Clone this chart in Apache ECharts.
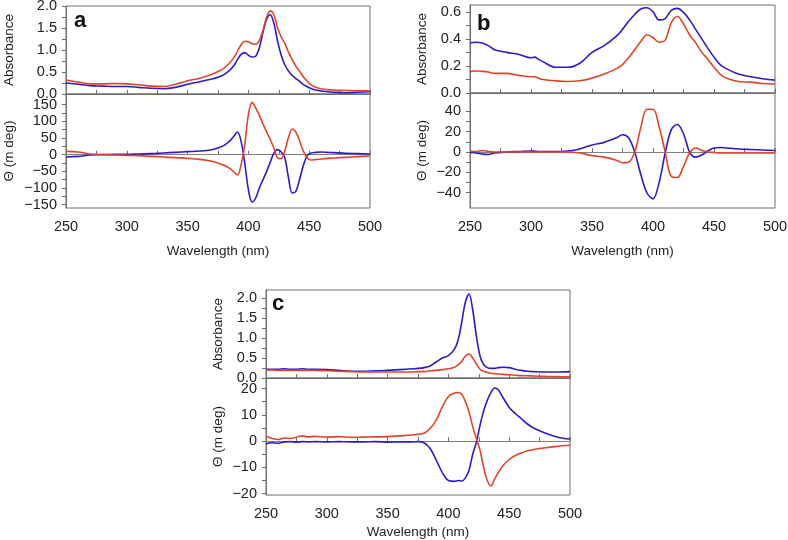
<!DOCTYPE html>
<html>
<head>
<meta charset="utf-8">
<script src="https://cdn.jsdelivr.net/npm/echarts@6/dist/echarts.min.js"></script>
<style>html,body{margin:0;padding:0;background:#fff}#c{width:788px;height:540px}</style>
</head>
<body>
<div id="c"></div>
<script>
// ---------- DATA ----------
// Panel a
const wlA = [250,260,270,280,290,300,310,320,330,340,350,360,370,375,380,385,388,391,394,397,400,403,406,409,412,415,418,421,424,427,430,433,436,439,442,445,448,451,455,460,465,470,480,490,500];
const absA_red  = [0.32,0.27,0.23,0.23,0.24,0.23,0.21,0.18,0.17,0.22,0.30,0.36,0.45,0.51,0.59,0.72,0.82,0.97,1.12,1.20,1.19,1.14,1.13,1.22,1.45,1.75,1.89,1.80,1.50,1.30,1.15,0.95,0.78,0.63,0.52,0.40,0.30,0.22,0.16,0.12,0.10,0.09,0.08,0.07,0.07];
const absA_blue = [0.25,0.22,0.19,0.18,0.17,0.17,0.15,0.13,0.12,0.15,0.22,0.28,0.34,0.38,0.44,0.55,0.64,0.78,0.90,0.94,0.88,0.84,0.86,1.05,1.40,1.70,1.80,1.60,1.20,0.88,0.66,0.52,0.42,0.35,0.29,0.22,0.17,0.13,0.09,0.07,0.05,0.04,0.03,0.04,0.05];
const cdA_red   = [10,8,2,0,-1,-2,-3,-5,-7,-9,-11,-14,-20,-25,-32,-42,-52,-61,-30,30,120,157,140,118,92,68,45,20,-10,-12,12,52,77,68,42,12,-8,-16,-15,-13,-11,-10,-8,-6,-4];
const cdA_blue  = [-7,-5,-1,0,1,1,2,3,5,7,9,11,15,20,28,42,55,68,40,-25,-105,-142,-130,-100,-75,-50,-22,5,15,8,-10,-70,-115,-110,-75,-35,-5,4,7,8,7,6,4,3,2];

// Panel b
const wlB = [250,255,260,265,270,280,290,300,303,306,310,320,330,340,350,360,370,375,380,385,390,395,400,405,410,415,420,425,430,435,440,445,450,455,460,470,480,490,500];
const absB_red  = [0.16,0.163,0.16,0.155,0.145,0.145,0.13,0.12,0.12,0.11,0.10,0.09,0.085,0.09,0.11,0.14,0.18,0.21,0.26,0.32,0.38,0.43,0.41,0.375,0.39,0.52,0.565,0.51,0.43,0.37,0.30,0.25,0.19,0.14,0.11,0.085,0.08,0.07,0.065];
const absB_blue = [0.37,0.375,0.37,0.35,0.32,0.30,0.285,0.26,0.265,0.25,0.23,0.19,0.19,0.22,0.30,0.35,0.42,0.47,0.53,0.58,0.62,0.63,0.60,0.54,0.55,0.61,0.625,0.595,0.54,0.47,0.40,0.33,0.265,0.21,0.18,0.14,0.12,0.105,0.095];
const cdB_red   = [1,0.5,1.5,0.5,0,0,0,0,0,0,0,0,0,-1,-3.5,-5,-8,-10.5,-10,0,24,42,42,25,0,-24,-25,-14,-1,4,1.5,0,-0.5,-1,-1,-1,-1,-1,-1];
const cdB_blue  = [-0.5,-1,-2,-2.5,-1,0,0.5,1,0.8,0.5,0.5,0.5,1,3,7,9.5,14,17,14,0,-22,-40,-46,-30,-1,22,27,18,0,-5,-3,1,4,4.5,4,3,2.5,2,1.5];

// Panel c
const wlC = [250,255,260,265,270,275,280,285,290,300,310,320,330,340,350,360,370,375,380,385,390,395,400,405,408,411,414,417,420,423,426,429,432,435,438,441,445,450,455,460,465,470,480,490,500];
const absC_red  = [0.20,0.20,0.19,0.19,0.19,0.19,0.19,0.19,0.19,0.18,0.17,0.16,0.15,0.15,0.15,0.15,0.15,0.16,0.16,0.18,0.19,0.21,0.23,0.27,0.33,0.42,0.55,0.60,0.50,0.35,0.22,0.17,0.14,0.12,0.11,0.10,0.09,0.08,0.07,0.06,0.055,0.05,0.04,0.035,0.03];
const absC_blue = [0.22,0.22,0.22,0.23,0.22,0.22,0.23,0.22,0.22,0.21,0.19,0.17,0.17,0.18,0.19,0.21,0.23,0.24,0.26,0.30,0.40,0.50,0.56,0.72,0.95,1.40,1.90,2.10,1.70,1.05,0.55,0.33,0.26,0.24,0.24,0.26,0.27,0.26,0.22,0.19,0.17,0.16,0.15,0.15,0.16];
const cdC_red   = [1.8,1.0,0.6,1.2,1.0,1.5,2.0,1.6,1.8,1.5,1.7,1.4,1.5,1.6,1.7,2.0,2.3,2.6,3.0,4.8,8,13,17,18.3,18.5,17.8,15,11,5.5,1,-3.5,-10,-15,-17,-14.5,-12,-9.3,-7,-5.5,-4.5,-3.7,-3.2,-2.5,-2,-1.6];
const cdC_blue  = [-1.0,-0.6,-0.8,-0.3,-0.2,-0.4,-0.2,-0.3,-0.2,-0.3,-0.2,-0.3,-0.3,-0.2,-0.4,-0.3,-0.3,-0.2,-0.6,-2.8,-7.2,-12,-15,-15.3,-15,-15.2,-14,-11,-5,-0.5,6,11.5,15.5,18.5,20.2,19.5,16.5,12.8,10.5,8.5,6.5,5,3,1.5,0.8];

// Tick labels
const xTicks = [250,300,350,400,450,500];
const absTicksA = [0,0.5,1.0,1.5,2.0];
const absTicksB = [0,0.2,0.4,0.6];
const absTicksC = [0,0.5,1.0,1.5,2.0];
const cdTicksA = [-150,-100,-50,0,50,100,150];
const cdTicksB = [-40,-20,0,20,40];
const cdTicksC = [-20,-10,0,10,20];

// ---------- CHART ----------
const RED = '#E0452B', BLUE = '#2B1CC6', AX = '#6e6e6e', TXT = '#222';
const FONT = 'Liberation Sans, Arial, Helvetica, sans-serif';
const TICKFS = 14.5, NAMEFS = 13.5;

const panels = [
  {wl: wlA, abs:[absA_red, absA_blue], cd:[cdA_red, cdA_blue], absR:[0,2.0], cdR:[-160,182], absT:absTicksA, cdT:cdTicksA,
   left:66, width:304, absTop:6, absH:88, cdH:114, nameGap:50, xNameGap:36, letter:'a', lx:74, ly:10},
  {wl: wlB, abs:[absB_red, absB_blue], cd:[cdB_red, cdB_blue], absR:[0,0.65], cdR:[-55,58], absT:absTicksB, cdT:cdTicksB,
   left:470, width:305, absTop:5, absH:88, cdH:115, nameGap:41, xNameGap:36, letter:'b', lx:477, ly:13},
  {wl: wlC, abs:[absC_red, absC_blue], cd:[cdC_red, cdC_blue], absR:[0,2.2], cdR:[-20.5,24], absT:absTicksC, cdT:cdTicksC,
   left:266, width:304, absTop:290, absH:88, cdH:117, nameGap:41, xNameGap:30, letter:'c', lx:272, ly:293}
];

function withMinors(ticks){
  const out=[]; for(let i=0;i<ticks.length;i++){ out.push(ticks[i]); if(i<ticks.length-1) out.push((ticks[i]+ticks[i+1])/2); }
  return out;
}
function fmtAbs(v){ return Number(v).toFixed(1); }
function fmtCd(v){ v=Math.round(v*1000)/1000; return v<0 ? '\u2212'+Math.abs(v) : String(v); }

const grid=[], xAxis=[], yAxis=[], series=[], graphic=[];
const xMinor = []; for(let v=250; v<=500; v+=25) xMinor.push(v);

panels.forEach((p, pi) => {
  const gA = grid.length, gC = grid.length+1;
  grid.push({left:p.left, top:p.absTop, width:p.width, height:p.absH, show:true, borderColor:AX, borderWidth:1, containLabel:false, outerBoundsMode:'none'});
  grid.push({left:p.left, top:p.absTop+p.absH, width:p.width, height:p.cdH, show:true, borderColor:AX, borderWidth:1, containLabel:false, outerBoundsMode:'none'});
  const baseX = {type:'value', min:250, max:500, interval:25, position:'bottom',
    axisLine:{show:true, lineStyle:{color:AX, width:1}},
    axisTick:{show:true, inside:true, length:4, customValues:xMinor, lineStyle:{color:AX}},
    splitLine:{show:false}};
  xAxis.push(Object.assign({}, baseX, {gridIndex:gA, axisLabel:{show:false}}));
  xAxis.push(Object.assign({}, baseX, {gridIndex:gC,
    axisLabel:{show:true, customValues:xTicks, color:TXT, fontSize:TICKFS, fontFamily:FONT, margin:11},
    name:'Wavelength (nm)', nameLocation:'middle', nameGap:p.xNameGap,
    nameTextStyle:{color:TXT, fontSize:NAMEFS, fontFamily:FONT}}));
  const yA = yAxis.length;
  yAxis.push({type:'value', gridIndex:gA, position:'left', min:p.absR[0], max:p.absR[1],
    axisLine:{show:true, lineStyle:{color:AX}},
    axisTick:{show:true, inside:false, length:4, customValues:withMinors(p.absT), lineStyle:{color:AX}},
    axisLabel:{show:true, customValues:p.absT, formatter:fmtAbs, color:TXT, fontSize:TICKFS, fontFamily:FONT, margin:9},
    splitLine:{show:false},
    name:'Absorbance', nameLocation:'middle', nameGap:p.nameGap, nameRotate:90,
    nameTextStyle:{color:TXT, fontSize:NAMEFS, fontFamily:FONT}});
  const yC = yAxis.length;
  yAxis.push({type:'value', gridIndex:gC, position:'left', min:p.cdR[0], max:p.cdR[1],
    axisLine:{show:true, lineStyle:{color:AX}},
    axisTick:{show:true, inside:false, length:4, customValues:withMinors(p.cdT), lineStyle:{color:AX}},
    axisLabel:{show:true, customValues:p.cdT, formatter:fmtCd, color:TXT, fontSize:TICKFS, fontFamily:FONT, margin:9},
    splitLine:{show:false},
    name:'\u0398 (m deg)', nameLocation:'middle', nameGap:p.nameGap, nameRotate:90,
    nameTextStyle:{color:TXT, fontSize:NAMEFS, fontFamily:FONT}});

  const colors=[RED, BLUE];
  [0,1].forEach(k => {
    series.push({type:'line', xAxisIndex:gA, yAxisIndex:yA, showSymbol:false, smooth:0.35,
      lineStyle:{color:colors[k], width:1.6}, itemStyle:{color:colors[k]}, z:3-k,
      data:p.wl.map((w,i)=>[w, p.abs[k][i]])});
  });
  [0,1].forEach(k => {
    const s = {type:'line', xAxisIndex:gC, yAxisIndex:yC, showSymbol:false, smooth:0.35,
      lineStyle:{color:colors[k], width:1.6}, itemStyle:{color:colors[k]}, z:3-k,
      data:p.wl.map((w,i)=>[w, p.cd[k][i]])};
    if(k===0){
      s.markLine = {silent:true, symbol:'none', label:{show:false}, z:1,
        lineStyle:{color:'#808080', width:1.2, type:'solid'}, data:[{yAxis:0}]};
    }
    series.push(s);
  });
  graphic.push({type:'text', left:p.lx, top:p.ly, style:{text:p.letter, font:'bold 22px '+FONT, fill:'#111'}});
});

const chart = echarts.init(document.getElementById('c'), null, {renderer:'canvas'});
chart.setOption({animation:false, backgroundColor:'#fff', grid, xAxis, yAxis, series, graphic});
</script>
</body>
</html>
